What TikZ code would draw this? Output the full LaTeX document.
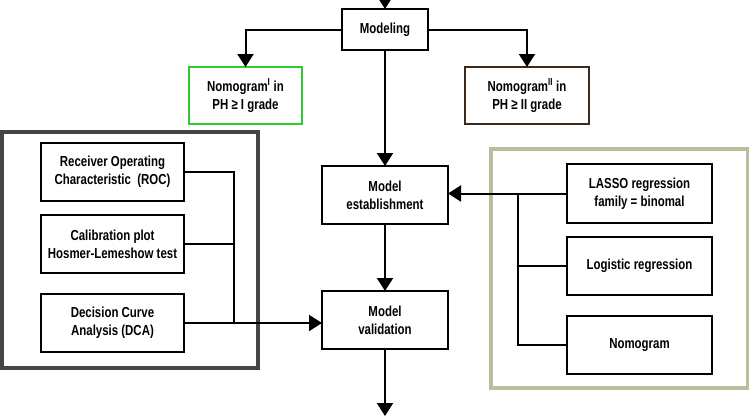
\documentclass[tikz,border=0pt]{standalone}
\usepackage{fontspec}
\setmainfont{Liberation Sans}[FakeStretch=0.79]
\usetikzlibrary{arrows.meta, positioning}

\definecolor{boxgreen}{HTML}{2ECC2E}
\definecolor{boxbrown}{HTML}{3B2A1C}
\definecolor{framegray}{HTML}{454545}
\definecolor{framekhaki}{HTML}{BDBD9E}

\begin{document}
\begin{tikzpicture}[
  x=1pt, y=-1pt,
  every node/.style={align=center, inner sep=2pt, font=\fontsize{14.5}{18}\selectfont\bfseries},
  stepbox/.style={draw, line width=2.2pt, outer sep=0pt, minimum width=126pt, minimum height=58pt},
  line/.style={line width=2pt},
  arrow/.style={line width=2pt, -{Triangle[length=13pt, width=16pt]}}
]
\useasboundingbox (0,0) rectangle (749,416);

% Frames
\draw [framegray, line width=3.5pt] (2,132) rectangle (258,368);
\draw [framekhaki, line width=3.5pt] (491,149) rectangle (748,388);

% Nodes
\node (model) [stepbox, minimum width=86pt, minimum height=41pt] at (385,29.5) {Modeling};
\node (nomoI) [stepbox, draw=boxgreen, minimum width=113pt, minimum height=57pt, below=17pt of model, xshift=-139.5pt] {Nomogram\textsuperscript{I} in\\ PH ≥ I grade};
\node (nomoII) [stepbox, draw=boxbrown, minimum width=124pt, minimum height=57pt, below=17pt of model, xshift=142pt] {Nomogram\textsuperscript{II} in\\ PH ≥ II grade};

\node (est) [stepbox, below=116pt of model] {Model\\ establishment};
\node (val) [stepbox, below=67pt of est] {Model\\ validation};

\node (lasso) [stepbox, minimum width=145pt, minimum height=59pt, right=119pt of est, yshift=1.5pt] {LASSO regression\\ family = binomal};
\node (logit) [stepbox, minimum width=145pt, below=14pt of lasso] {Logistic regression};
\node (nomo) [stepbox, minimum width=145pt, below=21pt of logit] {Nomogram};

\node (dca) [stepbox, minimum width=143pt, left=138pt of val, yshift=-3pt] {Decision Curve\\ Analysis (DCA)};
\node (cal) [stepbox, minimum width=143pt, above=21pt of dca] {Calibration plot\\ Hosmer-Lemeshow test};
\node (roc) [stepbox, minimum width=143pt, above=14pt of cal] {Receiver Operating\\ Characteristic~~(ROC)};

\coordinate (top) at (385,0);
\coordinate (bottom) at (385,416);
\coordinate (lb) at ([xshift=50pt]roc.east);
\coordinate (rb) at ([xshift=-49pt]lasso.west);

% Arrows
\draw [arrow] (top) -- (model);
\draw [arrow] (model.west) -| (nomoI.north);
\draw [arrow] (model.east) -| (nomoII.north);
\draw [arrow] (model) -- (est);
\draw [arrow] (est) -- (val);
\draw [arrow] (val) -- (bottom);

\draw [arrow] (lasso.west) -- (lasso.west -| est.east);
\draw [line] (rb) |- (nomo.west);
\draw [line] (logit.west) -- (logit.west -| rb);

\draw [line] (roc.east) -- (lb) -- (lb |- dca.east);
\draw [line] (cal.east) -- (cal.east -| lb);
\draw [arrow] (dca.east) -- (dca.east -| val.west);

\end{tikzpicture}
\end{document}
